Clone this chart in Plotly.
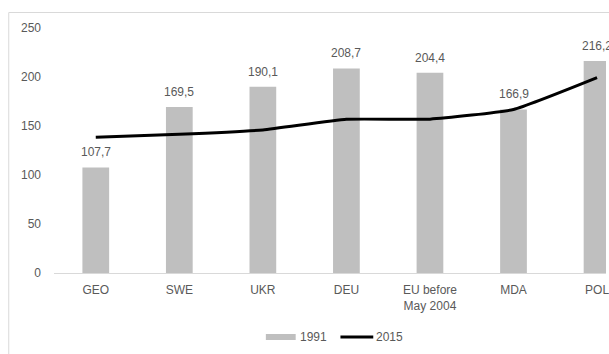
import plotly.graph_objects as go

# Categories and series
categories = ["GEO", "SWE", "UKR", "DEU", "EU before<br>May 2004", "MDA", "POL"]
values_1991 = [107.7, 169.5, 190.1, 208.7, 204.4, 166.9, 216.2]
values_2015 = [138.5, 141.5, 146.0, 156.8, 157.0, 166.8, 199.3]
y_ticks = [0, 50, 100, 150, 200, 250]

TEXT = "#595959"
FONT = "Liberation Sans"
BAR = "#bfbfbf"

fig = go.Figure()
fig.add_trace(go.Bar(
    x=list(range(len(categories))), y=values_1991, name="1991",
    marker=dict(color=BAR, line=dict(width=0)), width=0.32,
    showlegend=False,
))
fig.add_trace(go.Scatter(
    x=list(range(len(categories))), y=values_2015, name="2015",
    mode="lines", line=dict(color="black", width=3, shape="spline", smoothing=0.4),
    showlegend=False,
))

# Value labels above the 1991 bars
annotations = []
for i, v in enumerate(values_1991):
    annotations.append(dict(
        x=i, y=v, xref="x", yref="y", text=f"{v:.1f}".replace(".", ","),
        showarrow=False, yanchor="bottom", yshift=6,
        font=dict(family=FONT, size=12, color=TEXT),
    ))

# Legend drawn beneath the axis
L, T, W, H = 54, 28, 555, 245
def px(xp):
    return (xp - L) / W
def py(yp):
    return (T + H - yp) / H

shapes = [
    dict(type="rect", xref="paper", yref="paper",
         x0=px(8.5), x1=px(700), y0=py(400), y1=py(12.5),
         line=dict(color="#d9d9d9", width=1), fillcolor="rgba(0,0,0,0)", layer="below"),
    dict(type="rect", xref="paper", yref="paper",
         x0=px(267), x1=px(297), y0=py(340), y1=py(334),
         line=dict(width=0), fillcolor=BAR),
    dict(type="line", xref="paper", yref="paper",
         x0=px(342), x1=px(375), y0=py(337), y1=py(337),
         line=dict(color="black", width=3)),
]
annotations += [
    dict(x=px(299), y=py(337), xref="paper", yref="paper", text="1991",
         showarrow=False, xanchor="left", yanchor="middle",
         font=dict(family=FONT, size=12, color=TEXT)),
    dict(x=px(376), y=py(337), xref="paper", yref="paper", text="2015",
         showarrow=False, xanchor="left", yanchor="middle",
         font=dict(family=FONT, size=12, color=TEXT)),
]

fig.update_layout(
    width=609, height=354,
    margin=dict(l=L, r=0, t=T, b=354 - T - H),
    plot_bgcolor="white", paper_bgcolor="white",
    font=dict(family=FONT, size=12, color=TEXT),
    shapes=shapes, annotations=annotations,
    xaxis=dict(
        range=[-0.5, 6.5 - 33 / 84],
        tickmode="array", tickvals=list(range(len(categories))), ticktext=categories,
        showgrid=False, zeroline=False, showline=True, linecolor="#d9d9d9", linewidth=1,
        ticks="", ticklabelstandoff=6, ticklabeloverflow="allow",
        tickfont=dict(family=FONT, size=12, color=TEXT),
    ),
    yaxis=dict(
        range=[0, 250], tickmode="array", tickvals=y_ticks,
        showgrid=False, zeroline=False, showline=False, ticks="",
        ticklabelstandoff=12, tickfont=dict(family=FONT, size=12, color=TEXT),
    ),
)

fig.write_html("out.html")
